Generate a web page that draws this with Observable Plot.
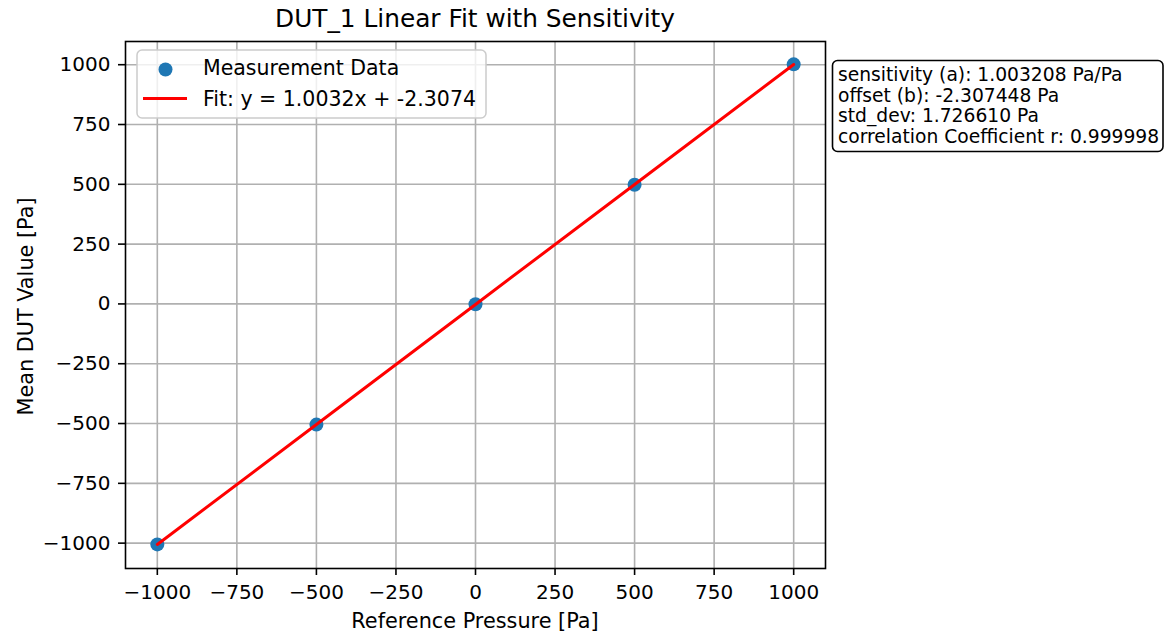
<!DOCTYPE html>
<html><head><meta charset="utf-8">
<script src="https://cdn.jsdelivr.net/npm/d3@7"></script>
<script src="https://cdn.jsdelivr.net/npm/@observablehq/plot@0.6"></script>
<style>
html,body{margin:0;padding:0;background:#fff}
svg{font-family:"DejaVu Sans",sans-serif}
</style>
</head><body><div id="chart"></div>
<script>
// ---- data ----
const referencePressure = [-1000, -500, 0, 500, 1000];
const meanDutValue = [-1005.3, -504.5, -1.6, 498.3, 1001.4];
const sensitivity = 1.003208;
const offset = -2.307448;
const stdDev = 1.726610;
const correlation = 0.999998;
const xTicks = [-1000, -750, -500, -250, 0, 250, 500, 750, 1000];
const yTicks = [-1000, -750, -500, -250, 0, 250, 500, 750, 1000];
const titleText = "DUT_1 Linear Fit with Sensitivity";
const xLabel = "Reference Pressure [Pa]";
const yLabel = "Mean DUT Value [Pa]";
const legendLabels = ["Measurement Data", "Fit: y = 1.0032x + -2.3074"];
const statsLines = [
  "sensitivity (a): 1.003208 Pa/Pa",
  "offset (b): -2.307448 Pa",
  "std_dev: 1.726610 Pa",
  "correlation Coefficient r: 0.999998"
];

// ---- tables ----
const points = referencePressure.map((x, i) => ({x, y: meanDutValue[i]}));
const fitLine = referencePressure.map(x => ({x, y: sensitivity * x + offset}));

const W = 1168, H = 637, mL = 125, mR = 343, mT = 41, mB = 69;
const gridStyle = {stroke: "#b0b0b0", strokeOpacity: 1, strokeWidth: 1.6};
const fmt = d3.format("d");

const plot = Plot.plot({
  width: W, height: H,
  marginLeft: mL, marginRight: mR, marginTop: mT, marginBottom: mB,
  style: {fontFamily: "DejaVu Sans", fontSize: "20px", color: "black", background: "white", overflow: "visible"},
  x: {domain: [-1100, 1100], label: null},
  y: {domain: [-1106, 1097], label: null},
  marks: [
    Plot.gridX(xTicks, gridStyle),
    Plot.gridY(yTicks, gridStyle),
    Plot.dot(points, {x: "x", y: "y", r: 7, fill: "#1f77b4", stroke: "none"}),
    Plot.line(fitLine, {x: "x", y: "y", stroke: "red", strokeWidth: 3}),
    Plot.frame({stroke: "black", strokeWidth: 1.6}),
    Plot.axisX(xTicks, {tickSize: 7, tickPadding: 9, fontSize: 20, strokeWidth: 1.6, tickFormat: fmt, label: null}),
    Plot.axisY(yTicks, {tickSize: 7, tickPadding: 8, fontSize: 20, strokeWidth: 1.6, tickFormat: fmt, label: null})
  ]
});
document.getElementById("chart").appendChild(plot);

// ---- annotations ----
const svg = d3.select(plot);
const cx = mL + (W - mL - mR) / 2;
const cy = mT + (H - mT - mB) / 2;

svg.append("text").attr("x", cx).attr("y", 27).attr("text-anchor", "middle")
  .attr("font-size", 24.8).attr("fill", "black").text(titleText);
svg.append("text").attr("x", cx).attr("y", 628).attr("text-anchor", "middle")
  .attr("font-size", 20.8).attr("fill", "black").text(xLabel);
svg.append("text").attr("transform", `translate(33,${cy + 2}) rotate(-90)`).attr("text-anchor", "middle")
  .attr("font-size", 20.8).attr("fill", "black").text(yLabel);

// legend
const lg = svg.append("g").attr("text-anchor", "start");
lg.append("rect").attr("x", 137).attr("y", 50).attr("width", 349).attr("height", 68).attr("rx", 5)
  .attr("fill", "white").attr("fill-opacity", 0.8).attr("stroke", "#cccccc").attr("stroke-width", 1.5);
lg.append("circle").attr("cx", 165.5).attr("cy", 69.5).attr("r", 7).attr("fill", "#1f77b4");
lg.append("line").attr("x1", 143).attr("x2", 187).attr("y1", 98.5).attr("y2", 98.5)
  .attr("stroke", "red").attr("stroke-width", 3);
legendLabels.forEach((t, i) => {
  lg.append("text").attr("x", 203).attr("y", 74.5 + i * 31).attr("text-anchor", "start")
    .attr("font-size", 20.5).attr("fill", "black").text(t);
});

// stats box
const sb = svg.append("g").attr("text-anchor", "start");
sb.append("rect").attr("x", 832.5).attr("y", 60.5).attr("width", 330.5).attr("height", 91).attr("rx", 5)
  .attr("fill", "white").attr("stroke", "black").attr("stroke-width", 1.6);
statsLines.forEach((t, i) => {
  sb.append("text").attr("x", 838).attr("y", 81 + i * 20.7).attr("text-anchor", "start")
    .attr("font-size", 18.7).attr("fill", "black").text(t);
});
</script>
</body></html>
